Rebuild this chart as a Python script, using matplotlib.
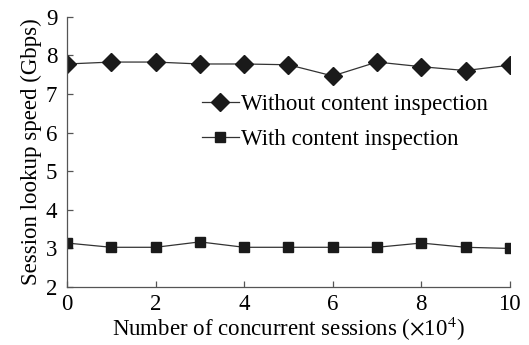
import matplotlib
matplotlib.use("Agg")
import matplotlib.pyplot as plt

sessions = [0, 1, 2, 3, 4, 5, 6, 7, 8, 9, 10]
without_inspection = [7.78, 7.83, 7.83, 7.78, 7.78, 7.76, 7.47, 7.83, 7.71, 7.61, 7.75]
with_inspection = [3.14, 3.03, 3.03, 3.17, 3.03, 3.03, 3.03, 3.03, 3.14, 3.03, 3.00]
x_ticks = [0, 2, 4, 6, 8, 10]
y_ticks = [2, 3, 4, 5, 6, 7, 8, 9]

plt.rcParams['font.family'] = ['Liberation Serif', 'DejaVu Serif']
plt.rcParams['mathtext.fontset'] = 'stix'

FS = 16.5
fig = plt.figure(figsize=(5.29, 3.45), dpi=100)
ax = fig.add_axes([0.1267, 0.168, 0.837, 0.783])

ax.plot(sessions, without_inspection, color='#333333', lw=0.9, marker='D', ms=9,
        mfc='#1a1a1a', mec='#1a1a1a', label='Without content inspection')
ax.plot(sessions, with_inspection, color='#333333', lw=0.9, marker='s', ms=7,
        mfc='#1a1a1a', mec='#1a1a1a', label='With content inspection')

ax.set_xlim(0, 10)
ax.set_ylim(2, 9)
ax.set_xticks(x_ticks)
ax.set_yticks(y_ticks)
ax.spines['top'].set_visible(False)
ax.spines['right'].set_visible(False)
for s in ['left', 'bottom']:
    ax.spines[s].set_color('#555555')
    ax.spines[s].set_linewidth(0.9)
ax.tick_params(direction='in', length=4, width=0.9, color='#555555', labelsize=FS)
ax.tick_params(axis='y', pad=7)
ax.tick_params(axis='x', pad=5)
ax.set_xlabel(r'Number of concurrent sessions ($\times$10$^4$)', fontsize=FS, labelpad=0)
ax.set_ylabel('Session lookup speed (Gbps)', fontsize=FS, labelpad=3)
ax.legend(loc='center left', bbox_to_anchor=(0.305, 0.61), frameon=False, fontsize=FS,
          handlelength=1.6, handletextpad=0.1, labelspacing=0.62, borderaxespad=0,
          borderpad=0)
ax.patch.set_visible(False)
fig.savefig('out.png', dpi=100)
